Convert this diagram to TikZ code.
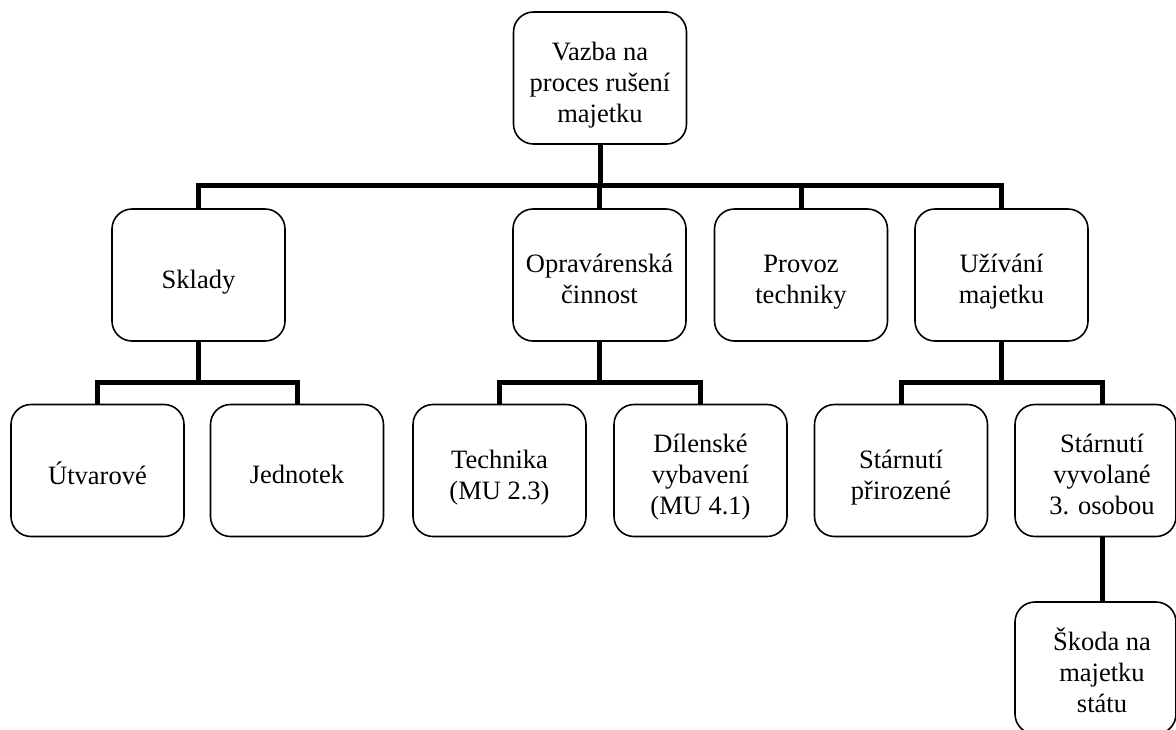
\documentclass[tikz,border=0pt]{standalone}
\usepackage{fontspec}
\setmainfont{Liberation Serif}
\newcommand\boxtext[1]{\raisebox{-7pt}[\height][\depth]{\begin{tabular}{@{}c@{}}#1\end{tabular}}}
\tikzset{
  orgbox/.style={draw, line width=1.6pt, rounded corners=20pt, fill=white,
    minimum width=173pt, minimum height=132pt, inner sep=0pt,
    font=\fontsize{26.5}{31}\selectfont},
  narrowbox/.style={orgbox, minimum width=161pt},
  conn/.style={line width=5pt, line join=miter}
}
\begin{document}
\begin{tikzpicture}[x=1pt, y=-1pt]
  \useasboundingbox (0,0) rectangle (1176,729);
  \fill[white] (0,0) rectangle (1176,729);

  % root
  \node[orgbox] (top) at (600,78) {\boxtext{Vazba na\\proces rušení\\majetku}};

  % first level
  \node[orgbox] (skl)  at (198.5,275) {\boxtext{Sklady}};
  \node[orgbox] (opr)  at (599.5,275) {\boxtext{Opravárenská\\činnost}};
  \node[orgbox] (prov) at (801,275)   {\boxtext{Provoz\\techniky}};
  \node[orgbox] (uz)   at (1001.5,275){\boxtext{Užívání\\majetku}};

  % second level
  \node[orgbox] (utv)  at (97.5,470.5)  {\boxtext{Útvarové}};
  \node[orgbox] (jed)  at (297,470.5)   {\boxtext{Jednotek}};
  \node[orgbox] (tech) at (499.5,470.5) {\boxtext{Technika\\(MU 2.3)}};
  \node[orgbox] (dil)  at (700.5,470.5) {\boxtext{Dílenské\\vybavení\\(MU 4.1)}};
  \node[orgbox] (sp)   at (901,470.5)   {\boxtext{Stárnutí\\přirozené}};
  \node[narrowbox] (sv) at (1095.5,470.5) {\hspace*{13pt}\boxtext{Stárnutí\\vyvolané\\3. osobou}};

  % third level
  \node[narrowbox] (sk) at (1095.5,668) {\hspace*{13pt}\boxtext{Škoda na\\majetku\\státu}};

  % connectors
  \foreach \c in {skl,opr,prov,uz}
    \draw[conn] (top.south) -- ++(0,40.5) -| (\c.north);
  \foreach \c in {utv,jed}
    \draw[conn] (skl.south) -- ++(0,41) -| (\c.north);
  \foreach \c in {tech,dil}
    \draw[conn] (opr.south) -- ++(0,41) -| (\c.north);
  \draw[conn] (uz.south) -- ++(0,41) -| (sp.north);
  \draw[conn] (uz.south) -- ++(0,41) -| ([xshift=6.5pt]sv.north);
  \draw[conn] ([xshift=6.5pt]sv.south) -- ([xshift=6.5pt]sk.north);
\end{tikzpicture}
\end{document}
